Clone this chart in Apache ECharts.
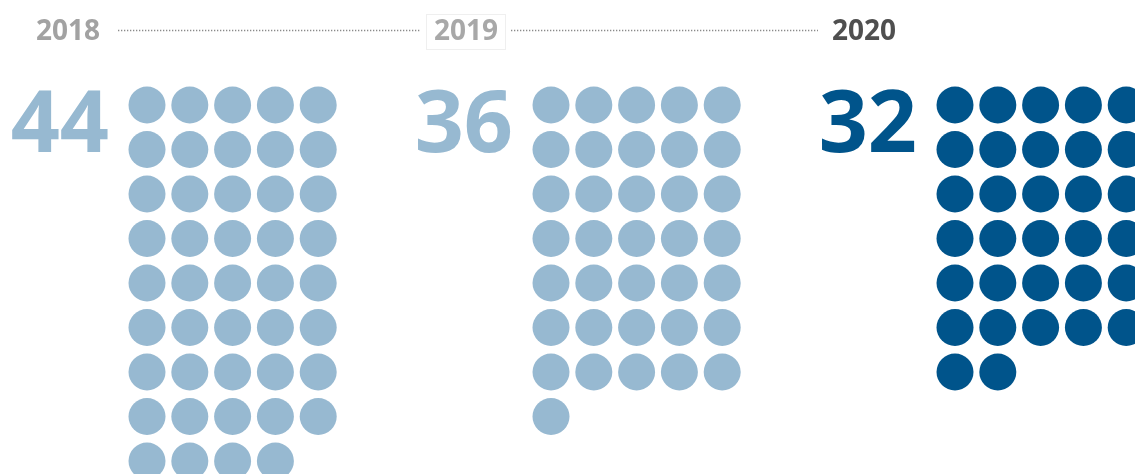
<!DOCTYPE html>
<html><head><meta charset="utf-8">
<script src="https://cdn.jsdelivr.net/npm/echarts@6/dist/echarts.min.js"></script>
<style>html,body{margin:0;padding:0;background:#fff}#c{width:1135px;height:474px}</style>
</head><body><div id="c"></div>
<script>
// ---- data ----
const years = ['2018', '2019', '2020'];
const counts = [44, 36, 32];
const dotColors = ['#97b9d1', '#97b9d1', '#00548b'];
const numberColors = ['#97b9d1', '#97b9d1', '#00548b'];
const yearColors = ['#a2a2a2', '#a8a8a8', '#4f4f4f'];

// ---- layout (px) ----
const W = 1135, H = 474;
const colStep = 42.8, rowStep = 44.5, perRow = 5;
const originX = 147, originY = 105;       // centre of first dot of first group
const groupStep = 404 / colStep;          // group stride in column units
const yearRow = (32 - originY) / rowStep; // row of the year labels
const lineRow = (30 - originY) / rowStep;
const yearStep = 398 / colStep;
const numOffset = -38 / colStep;          // right edge of big number
const numRow = (127 - originY) / rowStep;

const dotSeries = counts.map((n, g) => {
  const pts = [];
  for (let i = 0; i < n; i++) pts.push([g * groupStep + (i % perRow), Math.floor(i / perRow)]);
  return {
    type: 'scatter', data: pts, symbol: 'circle', symbolSize: 37, clip: false, silent: true,
    itemStyle: { color: dotColors[g], opacity: 1 }, z: 2
  };
});

const yearX = years.map((y, i) => (68 - originX) / colStep + i * yearStep);

const numberSeries = {
  type: 'scatter', symbolSize: 0, clip: false, silent: true,
  itemStyle: { opacity: 1 },
  data: counts.map((n, g) => ({
    value: [g * groupStep + numOffset, numRow],
    label: { show: true, formatter: String(n), position: 'left', distance: 0,
      color: numberColors[g], fontSize: 86, fontWeight: 'bold', fontFamily: 'Open Sans',
      verticalAlign: 'middle', opacity: 1 }
  }))
};

const yearSeries = {
  type: 'scatter', symbolSize: 0, clip: false, silent: true, z: 5,
  itemStyle: { opacity: 1 },
  data: years.map((y, i) => ({
    value: [yearX[i], yearRow],
    label: { show: true, formatter: y, position: 'inside', color: yearColors[i],
      fontSize: 28, fontWeight: 'bold', fontFamily: 'Open Sans', opacity: 1,
      backgroundColor: i === 1 ? '#fff' : 'transparent',
      borderColor: i === 1 ? '#efefef' : 'transparent', borderWidth: i === 1 ? 1 : 0,
      padding: i === 1 ? [4, 7, 2, 7] : 0 }
  }))
};

const px2x = p => (p - originX) / colStep;
const lineSeries = {
  type: 'lines', coordinateSystem: 'cartesian2d', silent: true, z: 1,
  lineStyle: { color: '#8a8a8a', width: 1.3, type: [1.3, 1.7], opacity: 1 },
  data: [
    { coords: [[px2x(118), lineRow], [px2x(421), lineRow]] },
    { coords: [[px2x(511), lineRow], [px2x(818), lineRow]] }
  ]
};

const chart = echarts.init(document.getElementById('c'), null, { renderer: 'canvas' });
chart.setOption({
  animation: false,
  grid: { left: 0, right: 0, top: 0, bottom: 0 },
  xAxis: { type: 'value', min: -originX / colStep, max: (W - originX) / colStep, show: false },
  yAxis: { type: 'value', inverse: true, min: -originY / rowStep, max: (H - originY) / rowStep, show: false },
  series: [...dotSeries, numberSeries, yearSeries, lineSeries]
});
</script></body></html>
